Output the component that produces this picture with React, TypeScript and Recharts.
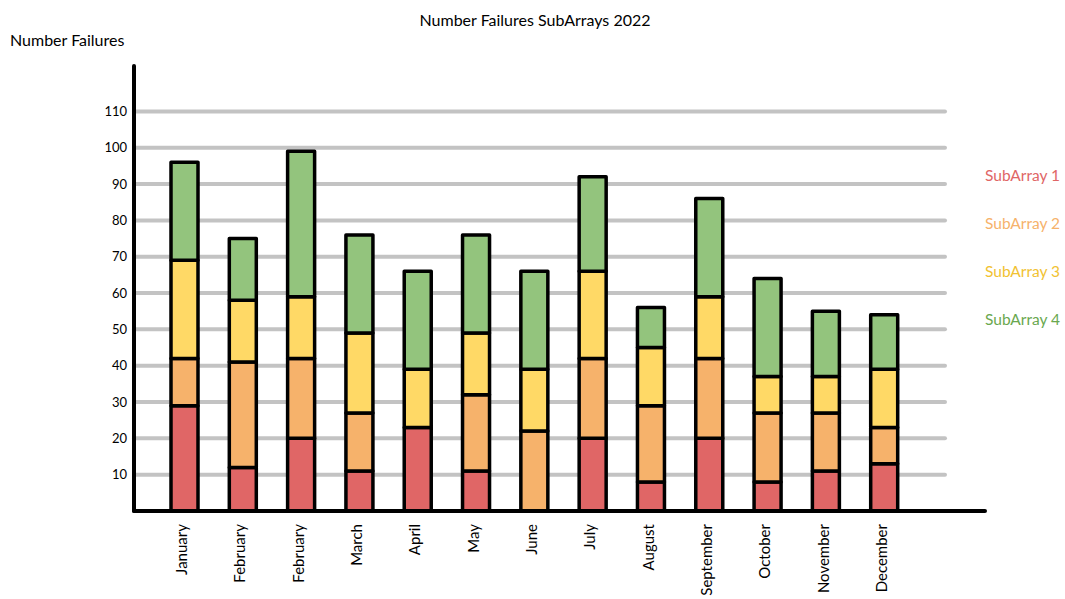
import { BarChart, Bar, XAxis, YAxis, CartesianGrid } from 'recharts';

const months = ['January', 'February', 'February', 'March', 'April', 'May', 'June', 'July', 'August', 'September', 'October', 'November', 'December'];
const subArray1 = [29, 12, 20, 11, 23, 11, 0, 20, 8, 20, 8, 11, 13];
const subArray2 = [13, 29, 22, 16, 0, 21, 22, 22, 21, 22, 19, 16, 10];
const subArray3 = [27, 17, 17, 22, 16, 17, 17, 24, 16, 17, 10, 10, 16];
const subArray4 = [27, 17, 40, 27, 27, 27, 27, 26, 11, 27, 27, 18, 15];
const yTicks = [10, 20, 30, 40, 50, 60, 70, 80, 90, 100, 110];

const series = [
  { key: 's1', label: 'SubArray 1', fill: '#e06666', text: '#e06666' },
  { key: 's2', label: 'SubArray 2', fill: '#f6b26b', text: '#f6b26b' },
  { key: 's3', label: 'SubArray 3', fill: '#ffd966', text: '#f1c232' },
  { key: 's4', label: 'SubArray 4', fill: '#93c47d', text: '#6aa84f' },
];

const data = months.map((m, i) => ({
  month: m,
  s1: subArray1[i],
  s2: subArray2[i],
  s3: subArray3[i],
  s4: subArray4[i],
}));

const FONT = 'Lato, "Open Sans", sans-serif';

function MonthTick({ x, y, payload }: any) {
  const tx = x - 3;
  const ty = y + 11;
  return (
    <text
      x={tx}
      y={ty}
      transform={`rotate(-90, ${tx}, ${ty})`}
      textAnchor="end"
      dominantBaseline="central"
      fontSize={15}
      fill="#000"
      fontFamily={FONT}
    >
      {payload.value}
    </text>
  );
}

// grid only at the tick values, stops short of the long x axis
function GridLine(props: any) {
  const { x1, x2, y1, y2, index, y, height } = props;
  if (typeof y === 'number' && (Math.abs(y1 - y) < 2 || Math.abs(y1 - (y + height)) < 2)) return <g key={`g-${index}`} />;
  return (
    <line
      key={`g-${index}`}
      x1={x1}
      x2={x2 - 40}
      y1={y1}
      y2={y2}
      stroke="#c3c3c3"
      strokeWidth={4}
      strokeLinecap="round"
    />
  );
}

export default function App() {
  return (
    <div style={{ position: 'absolute', left: 0, top: 0, width: 1065, height: 599, background: '#fff', fontFamily: FONT }}>
      <div style={{ position: 'absolute', left: 0, width: 1070, top: 10, textAlign: 'center', fontSize: 16, color: '#000' }}>
        Number Failures SubArrays 2022
      </div>
      <div style={{ position: 'absolute', left: 10, top: 30, fontSize: 16, color: '#000' }}>
        Number Failures
      </div>
      <div style={{ position: 'absolute', left: 985, top: 163, fontSize: 15.5 }}>
        {series.map((s) => (
          <div key={s.key} style={{ color: s.text, height: 48, lineHeight: '24px' }}>
            {s.label}
          </div>
        ))}
      </div>
      <BarChart
        width={1065}
        height={599}
        data={data}
        margin={{ top: 66, right: 80, left: 74, bottom: 0 }}
        barSize={27}
      >
        <CartesianGrid vertical={false} horizontal={GridLine} />
        <XAxis
          dataKey="month"
          height={88}
          padding={{ left: 21, right: 72 }}
          tickLine={false}
          tickSize={0}
          tick={<MonthTick />}
          interval={0}
          axisLine={{ stroke: '#000', strokeWidth: 4, strokeLinecap: 'round' }}
        />
        <YAxis
          width={60}
          domain={[0, 122.5]}
          ticks={yTicks}
          interval={0}
          tickLine={false}
          tickSize={0}
          tickMargin={7}
          tick={{ fontSize: 13, fill: '#000', fontFamily: FONT }}
          axisLine={{ stroke: '#000', strokeWidth: 4, strokeLinecap: 'round' }}
        />
        {series.map((s) => (
          <Bar
            key={s.key}
            dataKey={s.key}
            name={s.label}
            stackId="a"
            fill={s.fill}
            stroke="#000"
            strokeWidth={3.5}
            strokeLinejoin="round"
            isAnimationActive={false}
          />
        ))}
      </BarChart>
    </div>
  );
}
